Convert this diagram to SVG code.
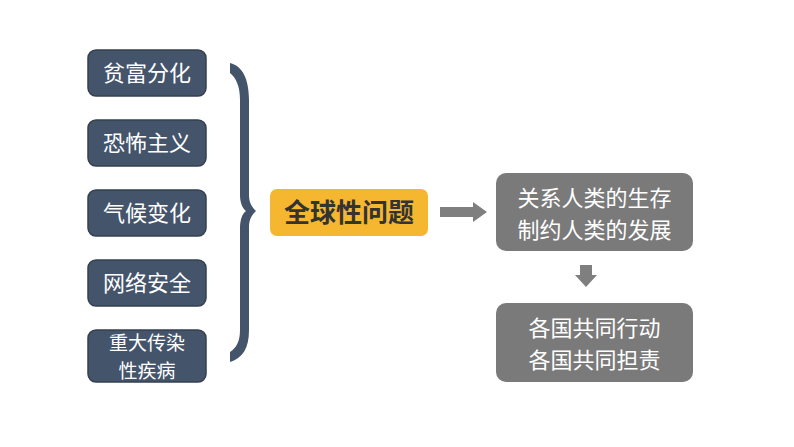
<svg xmlns="http://www.w3.org/2000/svg" width="794" height="447" viewBox="0 0 794 447">
<style>
.lb{fill:#44546a;stroke:#34404f;stroke-width:1.5}
.lt{fill:#ffffff;font-family:"Noto Sans CJK SC","Noto Sans CJK JP",sans-serif;font-size:22px;text-anchor:middle}
.gb{fill:#7a7a7a}
.gt{fill:#ffffff;font-family:"Noto Sans CJK SC","Noto Sans CJK JP",sans-serif;font-size:22px;text-anchor:middle}
.ar{fill:#7f7f7f}
</style>
<rect width="794" height="447" fill="#ffffff"/>
<g id="n1"><rect class="lb" x="88" y="50" width="118" height="46" rx="8"/><text class="lt" x="147" y="81">贫富分化</text></g>
<g id="n2"><rect class="lb" x="88" y="120" width="118" height="46" rx="8"/><text class="lt" x="147" y="151">恐怖主义</text></g>
<g id="n3"><rect class="lb" x="88" y="190" width="118" height="46" rx="8"/><text class="lt" x="147" y="221">气候变化</text></g>
<g id="n4"><rect class="lb" x="88" y="260" width="118" height="46" rx="8"/><text class="lt" x="147" y="291">网络安全</text></g>
<g id="n5"><rect class="lb" x="88" y="330" width="118" height="52" rx="8"/><text class="lt" x="147" y="350" style="font-size:19px">重大传染</text><text class="lt" x="147" y="377.5" style="font-size:19px">性疾病</text></g>
<g id="brace"><path fill="#44546a" d="M230,63 C243,66 249,80 249,100 L249,195 C249,203 252,207 256,211 C252,215 249,219 249,227 L249,330 C249,348 243,358 230,362 L230,352 C236,348 240,342 240,330 L240,228 C240,220 242,214 246,211 C242,208 240,202 240,195 L240,100 C240,86 236,78 230,73 Z"/></g>
<g id="center"><rect x="270" y="189" width="158" height="47" rx="7" fill="#f5b630"/><text x="349" y="222" fill="#333333" style="font-family:'Noto Sans CJK SC','Noto Sans CJK JP',sans-serif;font-size:26px;font-weight:bold;text-anchor:middle">全球性问题</text></g>
<g id="r1"><rect class="gb" x="496" y="173" width="197" height="78" rx="10"/><text class="gt" x="594.5" y="206">关系人类的生存</text><text class="gt" x="594.5" y="238">制约人类的发展</text></g>
<g id="r2"><rect class="gb" x="496" y="303" width="197" height="79" rx="10"/><text class="gt" x="594.5" y="336">各国共同行动</text><text class="gt" x="594.5" y="368">各国共同担责</text></g>
<g id="connectors">
<path class="ar" d="M440,207 L473,207 L473,202 L487,212 L473,222 L473,217 L440,217 Z"/>
<path class="ar" d="M580,265 L592,265 L592,275 L597,275 L586,287 L575,275 L580,275 Z"/>
</g>
</svg>
